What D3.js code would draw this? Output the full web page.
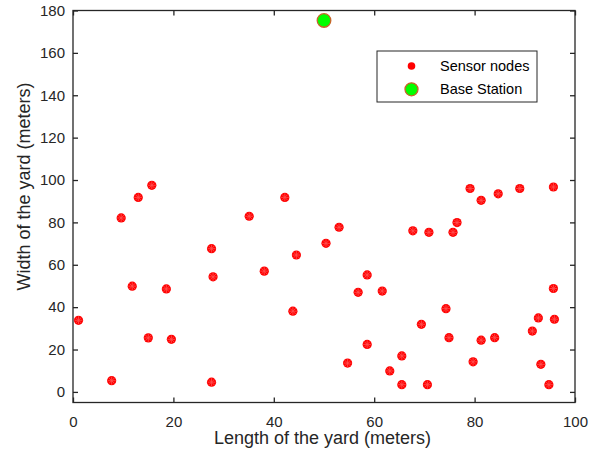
<!DOCTYPE html>
<html>
<head>
<meta charset="utf-8">
<script src="https://cdn.jsdelivr.net/npm/d3@7"></script>
<style>
  body { margin: 0; background: #fff; }
  svg { font-family: "Liberation Sans", Arial, sans-serif; }
  .tick text { fill: #262626; font-size: 15px; }
</style>
</head>
<body>
<svg id="chart" width="599" height="452"></svg>
<script>
// sensor node positions (meters)
const sensorX = [1.1, 7.7, 9.6, 11.8, 13.0, 15.0, 15.7, 18.6, 19.6, 27.6, 27.6, 27.9,
  35.1, 38.1, 42.2, 43.8, 44.5, 50.4, 53.0, 54.7, 56.8, 58.6, 58.6, 61.6, 63.1,
  65.5, 65.5, 67.7, 69.4, 70.9, 70.6, 74.3, 74.9, 75.7, 76.5, 79.1, 79.7, 81.3,
  81.3, 84.0, 84.7, 89.0, 91.5, 92.7, 93.2, 94.8, 95.7, 95.7, 95.9];
const sensorY = [33.8, 5.3, 82.1, 49.9, 91.8, 25.5, 97.5, 48.6, 24.8, 67.6, 4.6, 54.3,
  82.9, 57.0, 91.8, 38.1, 64.6, 70.1, 77.7, 13.6, 47.0, 55.2, 22.4, 47.6, 9.9,
  17.0, 3.4, 76.0, 31.9, 75.3, 3.4, 39.3, 25.6, 75.3, 79.9, 96.0, 14.2, 90.4,
  24.4, 25.6, 93.5, 96.0, 28.7, 34.9, 13.0, 3.4, 96.7, 48.8, 34.3];
// base station
const baseX = [50];
const baseY = [175.3];

const xTicks = [0, 20, 40, 60, 80, 100];
const yTicks = [0, 20, 40, 60, 80, 100, 120, 140, 160, 180];
const legendLabels = ["Sensor nodes", "Base Station"];

const margin = { left: 73, right: 24, top: 10.5, bottom: 49.5 };
const width = 599, height = 452;
const ink = "#262626";

const svg = d3.select("#chart");

const x = d3.scaleLinear().domain([0, 100]).range([margin.left, width - margin.right]);
const y = d3.scaleLinear().domain([-5, 180]).range([height - margin.bottom, margin.top]);

const x0 = x.range()[0], x1 = x.range()[1];
const y0 = y.range()[0], y1 = y.range()[1];

// axes (box with inward ticks, MATLAB style)
svg.append("g")
    .attr("transform", `translate(0,${y0})`)
    .call(d3.axisBottom(x).tickValues(xTicks).tickSize(-5).tickPadding(14))
    .call(g => g.select(".domain").remove())
    .selectAll("text").attr("dy", "0.71em");

svg.append("g")
    .attr("transform", `translate(${x0},0)`)
    .call(d3.axisLeft(y).tickValues(yTicks).tickSize(-5).tickPadding(8))
    .call(g => g.select(".domain").remove());

svg.append("g")
    .attr("transform", `translate(0,${y1})`)
    .call(d3.axisTop(x).tickValues(xTicks).tickSize(-5).tickFormat(""))
    .call(g => g.select(".domain").remove());

svg.append("g")
    .attr("transform", `translate(${x1},0)`)
    .call(d3.axisRight(y).tickValues(yTicks).tickSize(-5).tickFormat(""))
    .call(g => g.select(".domain").remove());

svg.selectAll(".tick line").attr("stroke", ink).attr("stroke-width", 1.3);

svg.append("rect")
    .attr("x", x0).attr("y", y1)
    .attr("width", x1 - x0).attr("height", y0 - y1)
    .attr("fill", "none")
    .attr("stroke", ink)
    .attr("stroke-width", 1.3);

// axis labels
svg.append("text")
    .attr("x", 322.5)
    .attr("y", 444)
    .attr("text-anchor", "middle")
    .attr("fill", ink)
    .style("font-size", "18px")
    .text("Length of the yard (meters)");

svg.append("text")
    .attr("transform", "translate(30,186.5) rotate(-90)")
    .attr("text-anchor", "middle")
    .attr("fill", ink)
    .style("font-size", "18px")
    .text("Width of the yard (meters)");

// sensor nodes: filled circle with asterisk marker on top
const sensors = sensorX.map((d, i) => ({ x: d, y: sensorY[i] }));
const nodes = svg.append("g").selectAll("g")
    .data(sensors)
    .join("g")
    .attr("transform", d => `translate(${x(d.x)},${y(d.y)})`);

nodes.append("circle")
    .attr("r", 4.6)
    .attr("fill", "#ff0000");

const star = "M-4,0H4M0,-4V4M-2.9,-2.9L2.9,2.9M-2.9,2.9L2.9,-2.9";
nodes.append("path")
    .attr("d", star)
    .attr("stroke", "#ff5050")
    .attr("stroke-width", 0.8)
    .attr("fill", "none");

// base station
svg.append("g").selectAll("circle")
    .data(baseX.map((d, i) => ({ x: d, y: baseY[i] })))
    .join("circle")
    .attr("cx", d => x(d.x))
    .attr("cy", d => y(d.y))
    .attr("r", 6.8)
    .attr("fill", "#00ff00")
    .attr("stroke", "#c8642a")
    .attr("stroke-width", 1.3);

// legend
const legend = svg.append("g").attr("transform", "translate(377,51)");
legend.append("rect")
    .attr("width", 160).attr("height", 51)
    .attr("fill", "#fff")
    .attr("stroke", ink)
    .attr("stroke-width", 1);

legend.append("circle")
    .attr("cx", 34.5).attr("cy", 15)
    .attr("r", 3.8)
    .attr("fill", "#ff0000");
legend.append("circle")
    .attr("cx", 34.5).attr("cy", 38.3)
    .attr("r", 6.5)
    .attr("fill", "#00ff00")
    .attr("stroke", "#c8642a")
    .attr("stroke-width", 1.3);

legend.selectAll("text.lab")
    .data(legendLabels)
    .join("text")
    .attr("class", "lab")
    .attr("x", 63)
    .attr("y", (d, i) => 15 + i * 23.3)
    .attr("dy", "0.35em")
    .attr("fill", "#000")
    .style("font-size", "14.5px")
    .text(d => d);
</script>
</body>
</html>
